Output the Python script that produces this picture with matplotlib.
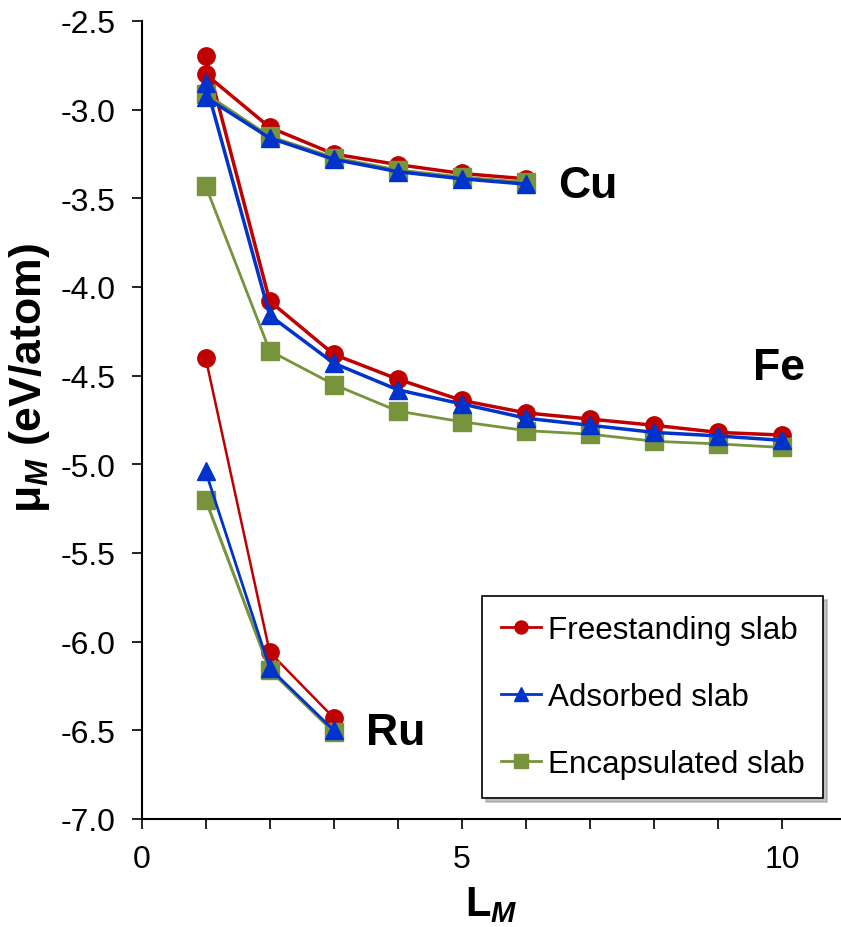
import matplotlib
matplotlib.use("Agg")
import matplotlib.pyplot as plt
from matplotlib.ticker import MultipleLocator, FormatStrFormatter

plt.rcParams['font.family'] = ['Liberation Sans', 'DejaVu Sans']
plt.rcParams['mathtext.fontset'] = 'custom'
plt.rcParams['mathtext.it'] = 'Liberation Sans:italic:bold'
plt.rcParams['mathtext.rm'] = 'Liberation Sans:bold'

# layer counts
x_cu = [1, 2, 3, 4, 5, 6]
x_fe = [1, 2, 3, 4, 5, 6, 7, 8, 9, 10]
x_ru = [1, 2, 3]

# chemical potential (eV/atom)
cu_free = [-2.80, -3.10, -3.25, -3.31, -3.36, -3.39]
cu_ads = [-2.93, -3.16, -3.28, -3.35, -3.39, -3.42]
cu_enc = [-2.91, -3.15, -3.27, -3.34, -3.38, -3.41]

fe_free = [-2.70, -4.08, -4.38, -4.52, -4.64, -4.71, -4.745, -4.78, -4.82, -4.835]
fe_ads = [-2.85, -4.16, -4.43, -4.58, -4.66, -4.74, -4.78, -4.82, -4.84, -4.865]
fe_enc = [-3.43, -4.36, -4.55, -4.70, -4.76, -4.81, -4.83, -4.87, -4.885, -4.905]

ru_free = [-4.40, -6.06, -6.43]
ru_ads = [-5.04, -6.15, -6.50]
ru_enc = [-5.20, -6.16, -6.51]

red = '#C00000'
blue = '#0033CC'
green = '#77933C'

fig = plt.figure(figsize=(8.41, 9.28), dpi=100)
ax = fig.add_axes([0.1683, 0.1164, 0.8307, 0.8599])

ms = 12.5
# freestanding
h_free, = ax.plot(x_cu, cu_free, '-o', color=red, lw=2.5, ms=ms)
ax.plot(x_fe, fe_free, '-o', color=red, lw=2.5, ms=ms)
ax.plot(x_ru, ru_free, '-o', color=red, lw=1.8, ms=ms)
# encapsulated
h_enc, = ax.plot(x_cu, cu_enc, '-s', color=green, lw=2.0, ms=ms)
ax.plot(x_fe, fe_enc, '-s', color=green, lw=2.0, ms=ms)
ax.plot(x_ru, ru_enc, '-s', color=green, lw=2.2, ms=ms)
# adsorbed
h_ads, = ax.plot(x_cu, cu_ads, '-^', color=blue, lw=2.5, ms=ms)
ax.plot(x_fe, fe_ads, '-^', color=blue, lw=2.5, ms=ms)
ax.plot(x_ru, ru_ads, '-^', color=blue, lw=2.0, ms=ms)

ax.text(6.96, -3.43, 'Cu', fontsize=32, fontweight='bold', ha='center', va='center')
ax.text(9.95, -4.455, 'Fe', fontsize=32, fontweight='bold', ha='center', va='center')
ax.text(3.96, -6.51, 'Ru', fontsize=32, fontweight='bold', ha='center', va='center')

ax.set_xlim(0, 10.9)
ax.set_ylim(-7.0, -2.5)
ax.xaxis.set_major_locator(MultipleLocator(5))
ax.xaxis.set_minor_locator(MultipleLocator(1))
ax.yaxis.set_major_locator(MultipleLocator(0.5))
ax.yaxis.set_major_formatter(FormatStrFormatter('%.1f'))
ax.tick_params(axis='both', which='both', direction='out', length=7, width=1.2,
               labelsize=23)
ax.tick_params(axis='x', pad=11)
ax.tick_params(axis='y', pad=12)
for s in ['top', 'right']:
    ax.spines[s].set_visible(False)
for s in ['left', 'bottom']:
    ax.spines[s].set_linewidth(1.5)

ax.set_xlabel(r'L$_{\mathit{M}}$', fontsize=30, fontweight='bold', labelpad=7)
ax.set_ylabel(r'μ$_{\mathit{M}}$ (eV/atom)', fontsize=32, fontweight='bold')
ax.yaxis.set_label_coords(-0.128, 0.554)

leg = ax.legend([h_free, h_ads, h_enc],
                ['Freestanding slab', 'Adsorbed slab', 'Encapsulated slab'],
                loc='upper left', bbox_to_anchor=(0.5728, 0.3568),
                bbox_transform=fig.transFigure, borderaxespad=0,
                fontsize=22.6, markerscale=0.75, handlelength=1.3, handletextpad=0.2,
                labelspacing=1.18, borderpad=0.6, fancybox=False, framealpha=1,
                edgecolor='black',
                shadow={'ox': 3, 'oy': -3, 'color': '#999999', 'alpha': 0.6})
leg.get_frame().set_linewidth(1.2)
for line in leg.get_lines():
    line.set_linewidth(2.0)

fig.savefig('out.png', dpi=100)
